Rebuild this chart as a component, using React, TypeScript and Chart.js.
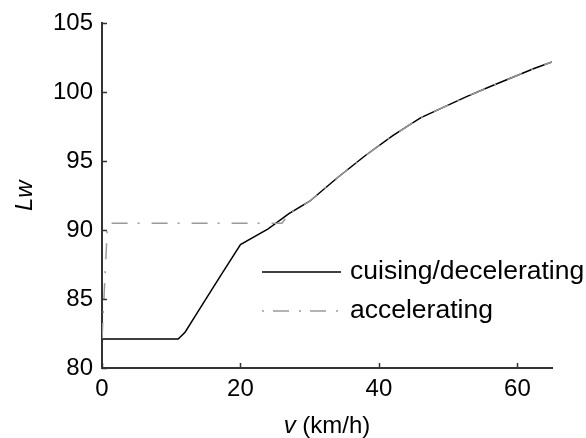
import React, { useEffect, useRef } from "react";
import { Chart, registerables } from "chart.js";

Chart.register(...registerables);

const cruiseV = [0, 11, 12, 14, 17, 20, 24, 27, 30, 34, 38, 42, 46, 52.5, 56, 62.5, 65];
const cruiseLw = [82.1, 82.1, 82.6, 84.2, 86.6, 88.95, 90.1, 91.2, 92.1, 93.8, 95.4, 96.85, 98.15, 99.65, 100.4, 101.75, 102.2];

const accelV = [0, 0.8, 26, 27, 30, 34, 38, 42, 46, 52.5, 56, 62.5, 65];
const accelLw = [82.1, 90.5, 90.5, 91.2, 92.1, 93.8, 95.4, 96.85, 98.15, 99.65, 100.4, 101.75, 102.2];

const xTicks = [0, 20, 40, 60];
const yTicks = [80, 85, 90, 95, 100, 105];

const seriesNames = ["cuising/decelerating", "accelerating"];
const xTitleItalic = "v";
const xTitleRest = " (km/h)";
const yTitle = "Lw";

const FONT = "'Liberation Sans', Arial, sans-serif";
const DASH = [16, 10, 2, 12];

export default function App() {
  const ref = useRef<HTMLCanvasElement | null>(null);

  useEffect(() => {
    document.body.style.margin = "0";
    const canvas = ref.current!;
    const toXY = (xs: number[], ys: number[]) => xs.map((x, i) => ({ x, y: ys[i] }));

    const decor = {
      id: "decor",
      afterDraw(chart: any) {
        const ctx = chart.ctx as CanvasRenderingContext2D;
        const xs = chart.scales.x;
        const ys = chart.scales.y;
        const area = chart.chartArea;
        ctx.save();
        // inward ticks
        ctx.strokeStyle = "#333";
        ctx.lineWidth = 1.5;
        ctx.beginPath();
        xTicks.forEach((t) => {
          const px = Math.round(xs.getPixelForValue(t)) + 0.5;
          ctx.moveTo(px, area.bottom);
          ctx.lineTo(px, area.bottom - 5);
        });
        yTicks.forEach((t) => {
          const py = Math.round(ys.getPixelForValue(t)) + 0.5;
          ctx.moveTo(area.left, py);
          ctx.lineTo(area.left + 5, py);
        });
        ctx.stroke();

        // legend
        const lx0 = 262, lx1 = 341, tx = 350;
        const rows = [272, 311];
        ctx.lineWidth = 1.5;
        ctx.strokeStyle = "#000";
        ctx.setLineDash([]);
        ctx.beginPath();
        ctx.moveTo(lx0, rows[0]);
        ctx.lineTo(lx1, rows[0]);
        ctx.stroke();
        ctx.strokeStyle = "#9a9a9a";
        ctx.setLineDash([2, 9, 16, 10]);
        ctx.beginPath();
        ctx.moveTo(lx0, rows[1]);
        ctx.lineTo(lx1, rows[1]);
        ctx.stroke();
        ctx.setLineDash([]);
        ctx.fillStyle = "#000";
        ctx.font = `26.5px ${FONT}`;
        ctx.textAlign = "left";
        ctx.textBaseline = "middle";
        ctx.fillText(seriesNames[0], tx, rows[0]);
        ctx.fillText(seriesNames[1], tx, rows[1]);

        // x title
        ctx.font = `italic 24px ${FONT}`;
        const w1 = ctx.measureText(xTitleItalic).width;
        ctx.font = `24px ${FONT}`;
        const w2 = ctx.measureText(xTitleRest).width;
        const cx = (area.left + area.right) / 2;
        const sx = cx - (w1 + w2) / 2;
        ctx.textBaseline = "middle";
        ctx.font = `italic 24px ${FONT}`;
        ctx.fillText(xTitleItalic, sx, 426);
        ctx.font = `24px ${FONT}`;
        ctx.fillText(xTitleRest, sx + w1, 426);

        // y title
        ctx.translate(25, (area.top + area.bottom) / 2);
        ctx.rotate(-Math.PI / 2);
        ctx.font = `italic 24px ${FONT}`;
        ctx.textAlign = "center";
        ctx.fillText(yTitle, 0, 0);
        ctx.restore();
      },
    };

    const chart = new Chart(canvas, {
      type: "line",
      data: {
        datasets: [
          {
            label: seriesNames[0],
            data: toXY(cruiseV, cruiseLw),
            borderColor: "#000",
            borderWidth: 1.5,
            pointRadius: 0,
            tension: 0,
            order: 2,
          },
          {
            label: seriesNames[1],
            data: toXY(accelV, accelLw),
            borderColor: "#9a9a9a",
            borderWidth: 1.5,
            borderDash: DASH,
            pointRadius: 0,
            tension: 0,
            order: 1,
          },
        ],
      },
      options: {
        responsive: false,
        animation: false,
        layout: { padding: { top: 19, right: 34, left: 0, bottom: 0 } },
        plugins: { legend: { display: false }, tooltip: { enabled: false } },
        scales: {
          x: {
            type: "linear",
            min: 0,
            max: 65,
            afterBuildTicks: (s: any) => {
              s.ticks = xTicks.map((v) => ({ value: v }));
            },
            afterFit: (s: any) => {
              s.height = 70;
            },
            ticks: {
              color: "#000",
              font: { family: FONT, size: 24 },
              padding: 7,
              maxRotation: 0,
            },
            grid: { display: false, drawTicks: false },
            border: { display: true, color: "#333", width: 2 },
          },
          y: {
            type: "linear",
            min: 80,
            max: 105,
            afterBuildTicks: (s: any) => {
              s.ticks = yTicks.map((v) => ({ value: v }));
            },
            afterFit: (s: any) => {
              s.width = 102;
            },
            ticks: {
              color: "#000",
              font: { family: FONT, size: 24 },
              padding: 9,
            },
            grid: { display: false, drawTicks: false },
            border: { display: true, color: "#333", width: 2 },
          },
        },
      },
      plugins: [decor],
    });
    return () => chart.destroy();
  }, []);

  return (
    <div style={{ width: 586, height: 438 }}>
      <canvas ref={ref} width={586} height={438} style={{ display: "block" }} />
    </div>
  );
}
